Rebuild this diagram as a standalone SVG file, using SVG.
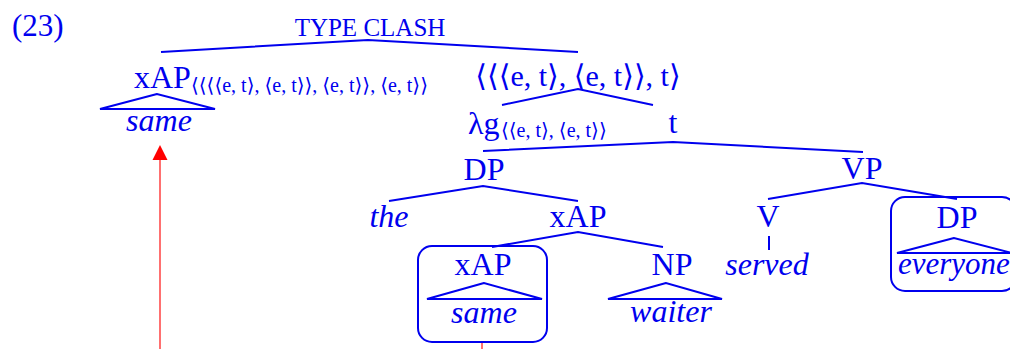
<svg xmlns="http://www.w3.org/2000/svg" width="1010" height="349" viewBox="0 0 1010 349">
<defs>
<style>
.t{font-family:"Liberation Serif","DejaVu Serif",serif;fill:#0000ee;font-size:32px}
.i{font-style:italic}
.m{text-anchor:middle}
.s{font-size:20px}
.br{stroke:#0000ee;stroke-width:2;fill:none}
.box{stroke:#0000ee;stroke-width:2;fill:none}
</style>
</defs>
<rect width="1010" height="349" fill="#ffffff"/>
<text class="t" x="12" y="36" style="font-size:31px">(23)</text>
<g id="connectors">
<polyline class="br" points="161,52 368,40 578,52"/>
<polyline class="br" points="502,105 578,89 653,105"/>
<polyline class="br" points="483,151 673,142 863,152"/>
<polyline class="br" points="389,201 483,186 578,201"/>
<polyline class="br" points="492,247 578,232 663,247"/>
<polyline class="br" points="768,199 862,183 957,199"/>
<line class="br" x1="769" y1="236" x2="769" y2="250"/>
<line x1="160" y1="349" x2="160" y2="158" stroke="#ff4040" stroke-width="1.5"/>
<polygon points="160,145 152.5,160 167.5,160" fill="#ff0000"/>
<line x1="482" y1="342" x2="482" y2="349" stroke="#ff4040" stroke-width="1.5"/>
</g>
<g id="typeclash"><text class="t m" x="370" y="36" style="font-size:25px">TYPE CLASH</text></g>
<g id="xap-top">
<text class="t" x="134" y="88">xAP<tspan class="s" x="191" dy="4">⟨⟨⟨⟨e, t⟩, ⟨e, t⟩⟩, ⟨e, t⟩⟩, ⟨e, t⟩⟩</tspan></text>
<polygon class="br" points="157,94 100,109 215,109"/>
<text class="t i m" x="159" y="131">same</text>
</g>
<g id="type-right"><text class="t m" x="578" y="86" style="font-size:30px">⟨⟨⟨e, t⟩, ⟨e, t⟩⟩, t⟩</text></g>
<g id="lambda-g"><text class="t" x="468" y="134">λg<tspan class="s" x="501" dy="3">⟨⟨e, t⟩, ⟨e, t⟩⟩</tspan></text></g>
<g id="t-node"><text class="t m" x="673" y="133">t</text></g>
<g id="dp"><text class="t m" x="484" y="180">DP</text></g>
<g id="the"><text class="t i m" x="389" y="227">the</text></g>
<g id="xap-mid"><text class="t m" x="578" y="227">xAP</text></g>
<g id="xap-box">
<rect class="box" x="418" y="246" width="129" height="96" rx="14"/>
<text class="t m" x="483" y="275">xAP</text>
<polygon class="br" points="484,283 427,299 542,299"/>
<text class="t i m" x="484" y="323">same</text>
</g>
<g id="np">
<text class="t m" x="672" y="275">NP</text>
<polygon class="br" points="666,283 608,299 722,299"/>
<text class="t i m" x="671" y="322">waiter</text>
</g>
<g id="vp"><text class="t m" x="862" y="179">VP</text></g>
<g id="v">
<text class="t m" x="768" y="227">V</text>
<text class="t i m" x="767" y="275">served</text>
</g>
<g id="dp-box">
<rect class="box" x="891" y="197" width="125" height="94" rx="14"/>
<text class="t m" x="957" y="228">DP</text>
<polygon class="br" points="954,238 897,253 1012,253"/>
<text class="t i" x="898" y="274" style="font-size:31px">everyone</text>
</g>
</svg>
